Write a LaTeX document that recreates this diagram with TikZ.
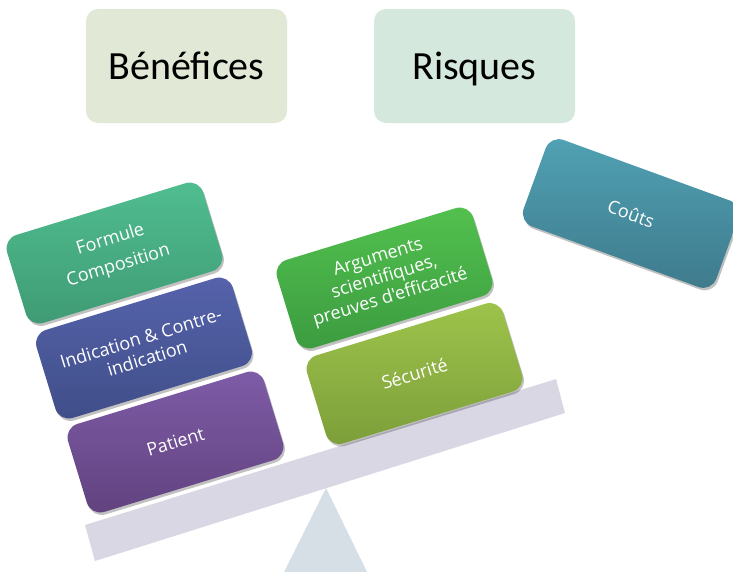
\documentclass[tikz,border=0pt]{standalone}
\usepackage{fontspec}
\setmainfont{Carlito}
\newfontfamily\cardfont{Open Sans}
\usetikzlibrary{shadows}
\definecolor{beamc}{HTML}{D9D7E4}
\definecolor{fulcrumc}{HTML}{D5DFE5}
\definecolor{benc}{HTML}{E1E9D6}
\definecolor{risc}{HTML}{D5E8DE}
\definecolor{formT}{HTML}{50BE90}
\definecolor{formB}{HTML}{3F9A74}
\definecolor{indT}{HTML}{5663AC}
\definecolor{indB}{HTML}{3F4E88}
\definecolor{patT}{HTML}{7F5CA8}
\definecolor{patB}{HTML}{61427E}
\definecolor{argT}{HTML}{52C14E}
\definecolor{argB}{HTML}{3C9B40}
\definecolor{secT}{HTML}{9EC44B}
\definecolor{secB}{HTML}{7C9E3A}
\definecolor{coutT}{HTML}{50A2B4}
\definecolor{coutB}{HTML}{3E7A8C}
\tikzset{
  title/.style={rounded corners=12pt, minimum width=201pt, minimum height=114pt,
    inner sep=0pt, font=\fontsize{40}{44}\selectfont, text=black,
    text height=36pt, text depth=9pt},
  card/.style={rounded corners=14pt, minimum width=205pt, minimum height=92pt,
    inner sep=0pt, align=center, text=white,
    font=\cardfont\fontsize{18}{21}\selectfont,
    drop shadow={shadow xshift=1.5pt, shadow yshift=-2.5pt, opacity=0.35, fill=black!70}},
  beamstyle/.style={fill=beamc, draw=none},
  fulcrumstyle/.style={fill=fulcrumc, draw=none}
}
\begin{document}
\begin{tikzpicture}[x=1pt,y=-1pt]
\useasboundingbox (0,0) rectangle (733,571);
\clip (0,0) rectangle (733,571);
% fulcrum and beam
\fill[fulcrumstyle] (326,488) -- (280,580) -- (371,580) -- cycle;
\fill[beamstyle] (85,525) -- (95,561) -- (565,413) -- (556,379) -- cycle;
% titles
\node[title, fill=benc] (ben) at (186.5,66) {Bénéfices};
\node[title, fill=risc] (ris) at (474.5,66) {Risques};
% left stack
\node[card, rotate=17, top color=formT, bottom color=formB] (form) at (114.5,253)
  {Formule\\[6pt]Composition};
\node[card, rotate=17, top color=indT, bottom color=indB] (ind) at (144,348)
  {Indication \& Contre-\\indication};
\node[card, rotate=17, top color=patT, bottom color=patB] (pat) at (175.5,442)
  {Patient};
% right stack
\node[card, rotate=17, top color=argT, bottom color=argB] (arg) at (384.5,278)
  {Arguments\\scientifiques,\\preuves d'efficacité};
\node[card, rotate=17, top color=secT, bottom color=secB] (sec) at (414.5,373.5)
  {Sécurité};
% floating cost
\node[card, rotate=-20, top color=coutT, bottom color=coutB] (cout) at (631,213.5)
  {Coûts};
\end{tikzpicture}
\end{document}
